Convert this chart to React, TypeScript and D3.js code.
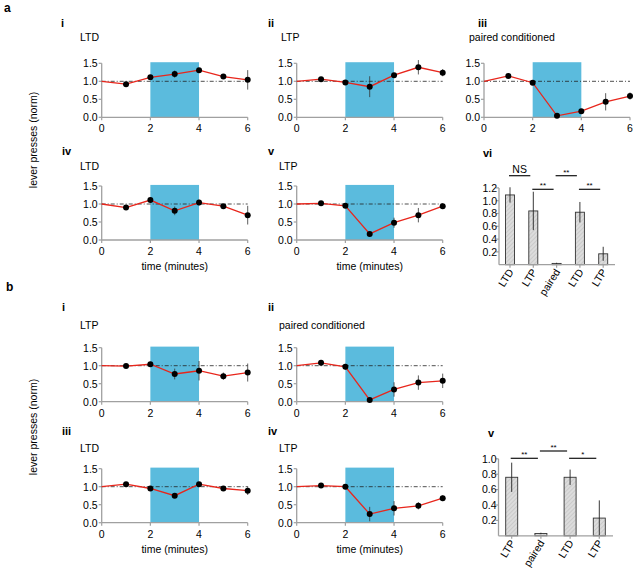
import React from "react";
import * as d3 from "d3";

// ---------- data ----------
const times = [0, 1, 2, 3, 4, 5, 6];
const xTicks = [0, 2, 4, 6];
const yTicks = [0, 0.5, 1.0, 1.5];

const aiVals = [1, 0.92, 1.11, 1.2, 1.31, 1.13, 1.04];
const aiErr = [0, 0.05, 0.04, 0.1, 0.05, 0.03, 0.27];
const aiiVals = [1, 1.06, 0.97, 0.85, 1.17, 1.39, 1.24];
const aiiErr = [0, 0.05, 0.03, 0.29, 0.06, 0.2, 0.1];
const aiiiVals = [1, 1.15, 0.96, 0.04, 0.17, 0.43, 0.59];
const aiiiErr = [0, 0.05, 0.04, 0.02, 0.06, 0.24, 0.1];
const aivVals = [1, 0.9, 1.11, 0.81, 1.04, 0.94, 0.69];
const aivErr = [0, 0.04, 0.04, 0.12, 0.08, 0.04, 0.26];
const avVals = [1, 1.02, 0.95, 0.17, 0.48, 0.69, 0.94];
const avErr = [0, 0.03, 0.03, 0.04, 0.14, 0.2, 0.08];

const biVals = [1, 0.99, 1.04, 0.77, 0.86, 0.71, 0.81];
const biErr = [0, 0.06, 0.04, 0.15, 0.27, 0.1, 0.25];
const biiVals = [1, 1.08, 0.97, 0.05, 0.34, 0.53, 0.58];
const biiErr = [0, 0.08, 0.08, 0.02, 0.2, 0.2, 0.2];
const biiiVals = [1, 1.07, 0.95, 0.75, 1.07, 0.95, 0.89];
const biiiErr = [0, 0.04, 0.03, 0.05, 0.06, 0.04, 0.12];
const bivVals = [1, 1.03, 1.0, 0.24, 0.4, 0.47, 0.68];
const bivErr = [0, 0.03, 0.03, 0.2, 0.2, 0.1, 0.08];

const avibCats = ["LTD", "LTP", "paired", "LTD", "LTP"];
const avibVals = [1.09, 0.84, 0.02, 0.82, 0.17];
const avibErr = [0.12, 0.3, 0.01, 0.16, 0.11];
const avibTicks = [0.2, 0.4, 0.6, 0.8, 1.0, 1.2];

const bvCats = ["LTP", "paired", "LTD", "LTP"];
const bvVals = [0.76, 0.03, 0.76, 0.23];
const bvErr = [0.19, 0.01, 0.1, 0.23];
const bvTicks = [0.2, 0.4, 0.6, 0.8, 1.0];

const FONT = "'Liberation Sans', Arial, Helvetica, sans-serif";
const BLUE = "#5bbbdd";
const RED = "#e8261c";
const AXIS = "#a0a0a0";

type LineProps = {
  x0: number; y0: number; vals: number[]; err: number[];
  numeral: string; title: string; nx: number; ny: number; tx: number; ty: number;
  xlabel?: boolean;
};

function LinePanel({ x0, y0, vals, err, numeral, title, nx, ny, tx, ty, xlabel }: LineProps) {
  const x = d3.scaleLinear().domain([0, 6]).range([x0, x0 + 146]);
  const y = d3.scaleLinear().domain([0, 1.5]).range([y0, y0 - 54]);
  const line = d3.line<number>().x((_, i) => x(times[i])).y((d) => y(d));
  return (
    <g>
      <text x={nx} y={ny} fontSize={11} fontWeight="bold" fontFamily={FONT}>{numeral}</text>
      <text x={tx} y={ty} fontSize={10.5} fontFamily={FONT}>{title}</text>
      <rect x={x(2)} y={y(1.53)} width={x(4) - x(2)} height={y(0) - y(1.53)} fill={BLUE} />
      {/* axes */}
      <line x1={x(0)} x2={x(6)} y1={y(0)} y2={y(0)} stroke={AXIS} strokeWidth={1.3} />
      <line x1={x(0)} x2={x(0)} y1={y(0)} y2={y(1.5)} stroke={AXIS} strokeWidth={1.3} />
      {xTicks.map((t) => (
        <g key={"xt" + t}>
          <line x1={x(t)} x2={x(t)} y1={y(0)} y2={y(0) + 3} stroke={AXIS} strokeWidth={1.2} />
          <text x={x(t)} y={y(0) + 15} fontSize={10.5} textAnchor="middle" fontFamily={FONT}>{t}</text>
        </g>
      ))}
      {yTicks.map((t) => (
        <g key={"yt" + t}>
          <line x1={x(0) - 3} x2={x(0)} y1={y(t)} y2={y(t)} stroke={AXIS} strokeWidth={1.2} />
          <text x={x(0) - 4} y={y(t) + 3.8} fontSize={10.5} textAnchor="end" fontFamily={FONT}>{t.toFixed(1)}</text>
        </g>
      ))}
      <line x1={x(0)} x2={x(6)} y1={y(1)} y2={y(1)} stroke="#222" strokeWidth={0.8} strokeDasharray="4,2,1,2" />
      {vals.map((v, i) => i > 0 && err[i] > 0 ? (
        <line key={"e" + i} x1={x(times[i])} x2={x(times[i])} y1={y(v - err[i])} y2={y(v + err[i])} stroke="#333" strokeWidth={0.8} />
      ) : null)}
      <path d={line(vals) || ""} fill="none" stroke={RED} strokeWidth={1.3} />
      {vals.map((v, i) => i > 0 ? (
        <circle key={"c" + i} cx={x(times[i])} cy={y(v)} r={3} fill="#000" />
      ) : null)}
      {xlabel ? (
        <text x={x(3)} y={y(0) + 30} fontSize={10.5} textAnchor="middle" fontFamily={FONT}>time (minutes)</text>
      ) : null}
    </g>
  );
}

type Sig = { a: number; b: number; level: number; label: string };
type BarProps = {
  xAxis0: number; xAxis1: number; firstCenter: number; step: number; barW: number;
  yBase: number; pxPerUnit: number; cats: string[]; vals: number[]; err: number[]; ticks: number[];
  sigs: Sig[]; numeral: string; nx: number; ny: number;
};

function BarPanel({ xAxis0, xAxis1, firstCenter, step, barW, yBase, pxPerUnit, cats, vals, err, ticks, sigs, numeral, nx, ny }: BarProps) {
  const y = d3.scaleLinear().domain([0, 1]).range([yBase, yBase - pxPerUnit]);
  const xc = (i: number) => firstCenter + i * step;
  const topTick = ticks[ticks.length - 1];
  return (
    <g>
      <text x={nx} y={ny} fontSize={11} fontWeight="bold" fontFamily={FONT}>{numeral}</text>
      {vals.map((v, i) => (
        <g key={"b" + i}>
          <rect x={xc(i) - barW / 2} y={y(v)} width={barW} height={y(0) - y(v)} fill="url(#hatch)" stroke="#333" strokeWidth={0.9} />
          <line x1={xc(i)} x2={xc(i)} y1={y(Math.max(0, v - err[i]))} y2={y(v + err[i])} stroke="#222" strokeWidth={0.9} />
        </g>
      ))}
      <line x1={xAxis0} x2={xAxis1} y1={yBase} y2={yBase} stroke={AXIS} strokeWidth={1.3} />
      <line x1={xAxis0} x2={xAxis0} y1={yBase} y2={y(topTick)} stroke={AXIS} strokeWidth={1.3} />
      {ticks.map((t) => (
        <g key={"t" + t}>
          <line x1={xAxis0 - 3} x2={xAxis0} y1={y(t)} y2={y(t)} stroke={AXIS} strokeWidth={1.2} />
          <text x={xAxis0 - 2} y={y(t) + 3.8} fontSize={10.5} textAnchor="end" fontFamily={FONT}>{t.toFixed(1)}</text>
        </g>
      ))}
      {cats.map((c, i) => (
        <g key={"l" + i}>
          <line x1={xc(i)} x2={xc(i)} y1={yBase} y2={yBase + 3} stroke={AXIS} strokeWidth={1.2} />
          <text transform={`translate(${xc(i) + 4},${yBase + 7}) rotate(-58)`} fontSize={10.5} textAnchor="end" fontFamily={FONT}>{c}</text>
        </g>
      ))}
      {sigs.map((s, i) => (
        <g key={"s" + i}>
          <line x1={xc(s.a) - 1} x2={xc(s.b) - 3} y1={s.level} y2={s.level} stroke="#111" strokeWidth={1.2} />
          <text x={(xc(s.a) + xc(s.b)) / 2 - 2} y={s.label === "NS" ? s.level - 3 : s.level - 1} fontSize={s.label === "NS" ? 10.5 : 8} textAnchor="middle" fontFamily={FONT}>{s.label}</text>
        </g>
      ))}
    </g>
  );
}

export default function App() {
  return (
    <svg width={639} height={577} style={{ position: "absolute", left: 0, top: 0, background: "#fff" }}>
      <defs>
        <pattern id="hatch" patternUnits="userSpaceOnUse" width={3} height={3} patternTransform="rotate(45)">
          <rect width={3} height={3} fill="#dcdcdc" />
          <line x1={0} y1={0} x2={0} y2={3} stroke="#b8b8b8" strokeWidth={1} />
        </pattern>
      </defs>
      <text x={4} y={12} fontSize={12} fontWeight="bold" fontFamily={FONT}>a</text>
      <text x={6} y={291} fontSize={12} fontWeight="bold" fontFamily={FONT}>b</text>
      <text transform="translate(37,140) rotate(-90)" fontSize={10.5} textAnchor="middle" fontFamily={FONT}>lever presses (norm)</text>
      <text transform="translate(37,427) rotate(-90)" fontSize={10.5} textAnchor="middle" fontFamily={FONT}>lever presses (norm)</text>

      <LinePanel x0={101.7} y0={117.3} vals={aiVals} err={aiErr} numeral="i" title="LTD" nx={61} ny={27} tx={80} ty={41} />
      <LinePanel x0={296.7} y0={117.3} vals={aiiVals} err={aiiErr} numeral="ii" title="LTP" nx={268} ny={27} tx={281} ty={41} />
      <LinePanel x0={484} y0={117.3} vals={aiiiVals} err={aiiiErr} numeral="iii" title="paired conditioned" nx={478} ny={27} tx={469} ty={41} />
      <LinePanel x0={101.7} y0={240} vals={aivVals} err={aivErr} numeral="iv" title="LTD" nx={62} ny={155} tx={80} ty={169.5} xlabel />
      <LinePanel x0={296.7} y0={240} vals={avVals} err={avErr} numeral="v" title="LTP" nx={268} ny={155} tx={279} ty={169.5} xlabel />

      <LinePanel x0={101.7} y0={401.7} vals={biVals} err={biErr} numeral="i" title="LTP" nx={62} ny={311} tx={80} ty={329} />
      <LinePanel x0={296.7} y0={401.7} vals={biiVals} err={biiErr} numeral="ii" title="paired conditioned" nx={268} ny={311} tx={279} ty={329} />
      <LinePanel x0={101.7} y0={522.7} vals={biiiVals} err={biiiErr} numeral="iii" title="LTD" nx={62} ny={435} tx={80} ty={452} xlabel />
      <LinePanel x0={296.7} y0={522.7} vals={bivVals} err={bivErr} numeral="iv" title="LTP" nx={268} ny={435} tx={279} ty={452} xlabel />

      <BarPanel xAxis0={499} xAxis1={615} firstCenter={510} step={23.3} barW={9} yBase={264.7} pxPerUnit={64}
        cats={avibCats} vals={avibVals} err={avibErr} ticks={avibTicks} numeral="vi" nx={483} ny={157}
        sigs={[{ a: 0, b: 1, level: 175.7, label: "NS" }, { a: 1, b: 2, level: 189.3, label: "**" }, { a: 2, b: 3, level: 175.7, label: "**" }, { a: 3, b: 4, level: 189.3, label: "**" }]} />
      <BarPanel xAxis0={498.5} xAxis1={613} firstCenter={511.7} step={29.2} barW={12} yBase={535.8} pxPerUnit={77}
        cats={bvCats} vals={bvVals} err={bvErr} ticks={bvTicks} numeral="v" nx={488} ny={437}
        sigs={[{ a: 0, b: 1, level: 458.3, label: "**" }, { a: 1, b: 2, level: 451, label: "**" }, { a: 2, b: 3, level: 458.3, label: "*" }]} />
    </svg>
  );
}
